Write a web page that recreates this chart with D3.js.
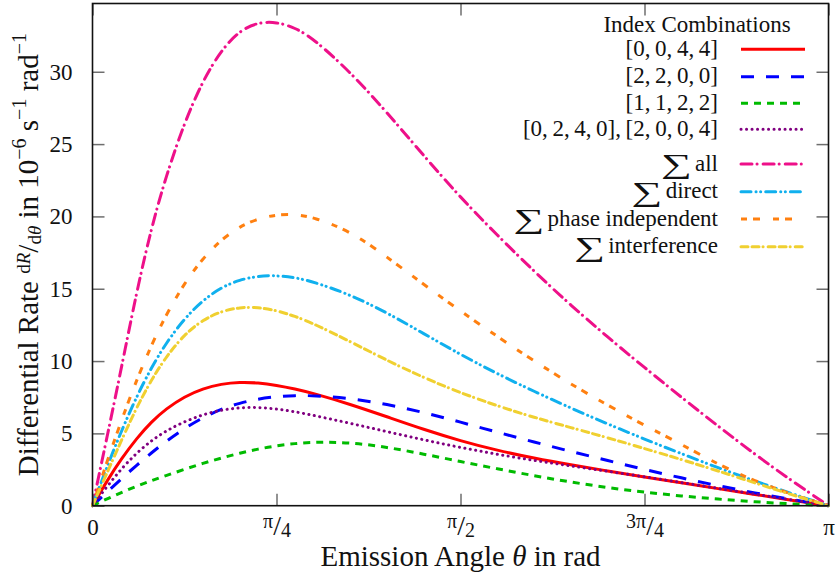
<!DOCTYPE html>
<html>
<head>
<meta charset="utf-8">
<script src="https://cdn.jsdelivr.net/npm/d3@7"></script>
<style>
  body { margin: 0; background: #fff; }
  svg { display: block; }
  svg text { font-family: "Liberation Serif", "Times New Roman", serif; }
</style>
</head>
<body>
<svg id="chart" width="836" height="579"></svg>
<script>
// Emission angle samples, in units of π
const thetaFrac = [0, 0.02, 0.04, 0.06, 0.08, 0.10, 0.125, 0.15, 0.175, 0.20, 0.225, 0.25, 0.275, 0.30,
                   0.35, 0.40, 0.45, 0.50, 0.55, 0.60, 0.65, 0.70, 0.75, 0.80, 0.85, 0.90, 0.95, 1.00];

// Differential rates dR/dθ in 1e-6 s^-1 rad^-1
const rate0044 = [0, 1.75, 3.3, 4.65, 5.8, 6.7, 7.55, 8.1, 8.42, 8.55, 8.5, 8.33, 8.08, 7.77,
                  7.02, 6.15, 5.27, 4.48, 3.82, 3.28, 2.82, 2.4, 1.98, 1.58, 1.18, 0.78, 0.38, 0];
const rate2200 = [0, 0.95, 1.9, 2.8, 3.65, 4.45, 5.35, 6.1, 6.68, 7.1, 7.38, 7.55, 7.62, 7.62,
                  7.42, 7.02, 6.45, 5.78, 5.08, 4.4, 3.75, 3.12, 2.5, 1.92, 1.38, 0.88, 0.42, 0];
const rate1122 = [0, 0.48, 0.93, 1.35, 1.73, 2.08, 2.52, 2.93, 3.3, 3.63, 3.92, 4.15, 4.3, 4.4,
                  4.38, 4.05, 3.57, 3.05, 2.55, 2.07, 1.63, 1.25, 0.93, 0.67, 0.45, 0.27, 0.12, 0];
const rate0240 = [0, 1.35, 2.6, 3.65, 4.5, 5.18, 5.82, 6.3, 6.62, 6.78, 6.8, 6.7, 6.5, 6.25,
                  5.7, 5.12, 4.55, 4.02, 3.55, 3.13, 2.75, 2.38, 2.0, 1.6, 1.2, 0.8, 0.4, 0];
const sumAll = [0, 4.8, 9.7, 14.8, 19.2, 22.8, 26.5, 29.4, 31.5, 32.85, 33.42, 33.45, 33.05, 32.3,
                30.0, 27.2, 24.2, 21.3, 18.7, 16.2, 13.85, 11.65, 9.55, 7.5, 5.5, 3.55, 1.72, 0];
const sumDirect = [0, 2.75, 5.25, 7.55, 9.55, 11.25, 12.95, 14.2, 15.1, 15.62, 15.88, 15.92, 15.78, 15.48,
                   14.6, 13.35, 11.9, 10.45, 9.12, 7.9, 6.75, 5.65, 4.6, 3.6, 2.62, 1.7, 0.83, 0];
const sumPhaseIndep = [0, 3.1, 6.0, 8.7, 11.1, 13.2, 15.4, 17.1, 18.4, 19.3, 19.85, 20.12, 20.15, 19.95,
                       19.0, 17.2, 15.3, 13.45, 11.7, 10.0, 8.4, 6.95, 5.55, 4.25, 2.85, 1.7, 0.78, 0];
const sumInterference = [0, 2.3, 4.6, 6.8, 8.7, 10.3, 11.85, 12.85, 13.45, 13.72, 13.72, 13.5, 13.1, 12.6,
                         11.35, 10.05, 8.85, 7.8, 6.9, 6.1, 5.4, 4.7, 3.95, 3.2, 2.4, 1.58, 0.75, 0];

// Legend entries: summed curves get a ∑ in front
const seriesLabels = ["[0,\u20090,\u20094,\u20094]", "[2,\u20092,\u20090,\u20090]", "[1,\u20091,\u20092,\u20092]",
                      "[0,\u20092,\u20094,\u20090],\u2009[2,\u20090,\u20090,\u20094]",
                      "all", "direct", "phase independent", "interference"];
const seriesIsSum = [false, false, false, false, true, true, true, true];
const seriesValues = [rate0044, rate2200, rate1122, rate0240, sumAll, sumDirect, sumPhaseIndep, sumInterference];
const seriesColors = ["#ff0000", "#0000ff", "#00bb00", "#800080", "#ee1089", "#10b0ee", "#ff8010", "#f0d030"];
const seriesDash = ["none", "13,12", "7,6", "0.1,5.4", "11,5,0.1,6", "10,5,0.1,4.5,0.1,5", "6,6,7,13", "7,4,7,4,0.1,5"];

// Axis ticks
const yTicks = [0, 5, 10, 15, 20, 25, 30];
const xTickFrac = [0, 0.25, 0.5, 0.75, 1];
const xTickLabels = ["0", "π/4", "π/2", "3π/4", "π"];

const FONT = "Liberation Serif, Times New Roman, serif";
const svg = d3.select("#chart");
const plotLeft = 92.5, plotRight = 828.5, plotTop = 3.5, plotBottom = 505.7;

const x = d3.scaleLinear().domain([0, Math.PI]).range([plotLeft, plotRight]);
const y = d3.scaleLinear().domain([0, 34.72]).range([plotBottom, plotTop]);

// Curves
const line = d3.line()
  .x(d => x(d[0] * Math.PI))
  .y(d => y(d[1]))
  .curve(d3.curveBasis);

const plot = svg.append("g").attr("class", "curves");
seriesValues.forEach((vals, i) => {
  plot.append("path")
    .datum(thetaFrac.map((t, k) => [t, vals[k]]))
    .attr("d", line)
    .attr("fill", "none")
    .attr("stroke", seriesColors[i])
    .attr("stroke-width", 3)
    .attr("stroke-linecap", seriesDash[i].indexOf("0.1") >= 0 ? "round" : "butt")
    .attr("stroke-dasharray", seriesDash[i]);
});

// Axes with inward ticks on all four sides
const tickColor = "#6e6e6e";
const yAxisL = svg.append("g").attr("transform", `translate(${plotLeft},0)`)
  .call(d3.axisLeft(y).tickValues(yTicks).tickSize(-12).tickPadding(20));
const yAxisR = svg.append("g").attr("transform", `translate(${plotRight},0)`)
  .call(d3.axisRight(y).tickValues(yTicks).tickSize(-12).tickFormat(""));
const xAxisB = svg.append("g").attr("transform", `translate(0,${plotBottom})`)
  .call(d3.axisBottom(x).tickValues(xTickFrac.map(t => t * Math.PI)).tickSize(-12).tickFormat(""));
const xAxisT = svg.append("g").attr("transform", `translate(0,${plotTop})`)
  .call(d3.axisTop(x).tickValues(xTickFrac.map(t => t * Math.PI)).tickSize(-12).tickFormat(""));

[yAxisL, yAxisR, xAxisB, xAxisT].forEach(g => {
  g.attr("font-family", FONT);
  g.select(".domain").remove();
  g.selectAll(".tick line").attr("stroke", tickColor).attr("stroke-width", 1.5);
});
yAxisL.selectAll(".tick text")
  .attr("font-family", FONT)
  .attr("font-size", 23)
  .attr("fill", "#111");

// x tick labels, fractions set in the nicefrac style
xAxisB.selectAll(".tick").each(function(d, i) {
  const lab = xTickLabels[i];
  const t = d3.select(this).append("text")
    .attr("y", 29.5)
    .attr("text-anchor", "middle")
    .attr("fill", "#111")
    .attr("font-family", FONT)
    .attr("font-size", 23);
  if (lab.indexOf("/") < 0) {
    t.text(lab);
  } else {
    const [num, den] = lab.split("/");
    t.append("tspan").attr("font-size", 20).attr("dy", -7).text(num);
    t.append("tspan").attr("font-size", 28).attr("dy", 7).text("/");
    t.append("tspan").attr("font-size", 20).attr("dy", 2).text(den);
  }
});

// Plot frame
svg.append("rect")
  .attr("x", plotLeft).attr("y", plotTop)
  .attr("width", plotRight - plotLeft).attr("height", plotBottom - plotTop)
  .attr("fill", "none").attr("stroke", "#111").attr("stroke-width", 1.6);

// x axis title
const xt = svg.append("text")
  .attr("x", (plotLeft + plotRight) / 2).attr("y", 566)
  .attr("text-anchor", "middle").attr("font-family", FONT).attr("font-size", 29).attr("fill", "#111");
xt.append("tspan").text("Emission Angle ");
xt.append("tspan").attr("font-style", "italic").text("θ");
xt.append("tspan").text(" in rad");

// y axis title
const yt = svg.append("text")
  .attr("transform", `translate(38,${(plotTop + plotBottom) / 2}) rotate(-90)`)
  .attr("text-anchor", "middle").attr("font-family", FONT).attr("font-size", 29).attr("fill", "#111");
yt.append("tspan").text("Differential Rate ");
yt.append("tspan").attr("font-size", 19).attr("dy", -8).text("d");
yt.append("tspan").attr("font-size", 19).attr("font-style", "italic").text("R");
yt.append("tspan").attr("dy", 8).text("/");
yt.append("tspan").attr("font-size", 19).attr("dy", 3).text("d");
yt.append("tspan").attr("font-size", 19).attr("font-style", "italic").text("θ");
yt.append("tspan").attr("dy", -3).text(" in 10");
yt.append("tspan").attr("font-size", 20).attr("dy", -12).text("−6");
yt.append("tspan").attr("dy", 12).text(" s");
yt.append("tspan").attr("font-size", 20).attr("dy", -12).text("−1");
yt.append("tspan").attr("dy", 12).text(" rad");
yt.append("tspan").attr("font-size", 20).attr("dy", -12).text("−1");

// Legend
const legend = svg.append("g").attr("class", "legend").attr("font-family", FONT);
legend.append("text")
  .attr("x", 697).attr("y", 31.5)
  .attr("text-anchor", "middle").attr("font-family", FONT).attr("font-size", 23).attr("fill", "#111")
  .text("Index Combinations");

const legendY = [49.3, 76.7, 103.3, 129.3, 164, 191.7, 219, 246.7];
const legendTextRight = 718;
seriesLabels.forEach((lab, i) => {
  const yy = legendY[i];
  const t = legend.append("text")
    .attr("x", legendTextRight).attr("y", yy + 6.5)
    .attr("text-anchor", "end").attr("font-family", FONT).attr("font-size", 23).attr("fill", "#111")
    .text(lab);
  if (seriesIsSum[i]) {
    // summation sign in front of the label: big-operator size, widened, sitting lower
    const w = t.node().getComputedTextLength();
    legend.append("text")
      .attr("transform", `translate(${legendTextRight - w - 3},${yy + 9}) scale(1.6,1)`)
      .attr("text-anchor", "end").attr("font-family", FONT).attr("font-size", 27).attr("fill", "#111")
      .text("∑");
  }
  legend.append("line")
    .attr("x1", 741).attr("x2", 805).attr("y1", yy).attr("y2", yy)
    .attr("stroke", seriesColors[i])
    .attr("stroke-width", 3)
    .attr("stroke-linecap", seriesDash[i].indexOf("0.1") >= 0 ? "round" : "butt")
    .attr("stroke-dasharray", seriesDash[i]);
});
</script>
</body>
</html>
